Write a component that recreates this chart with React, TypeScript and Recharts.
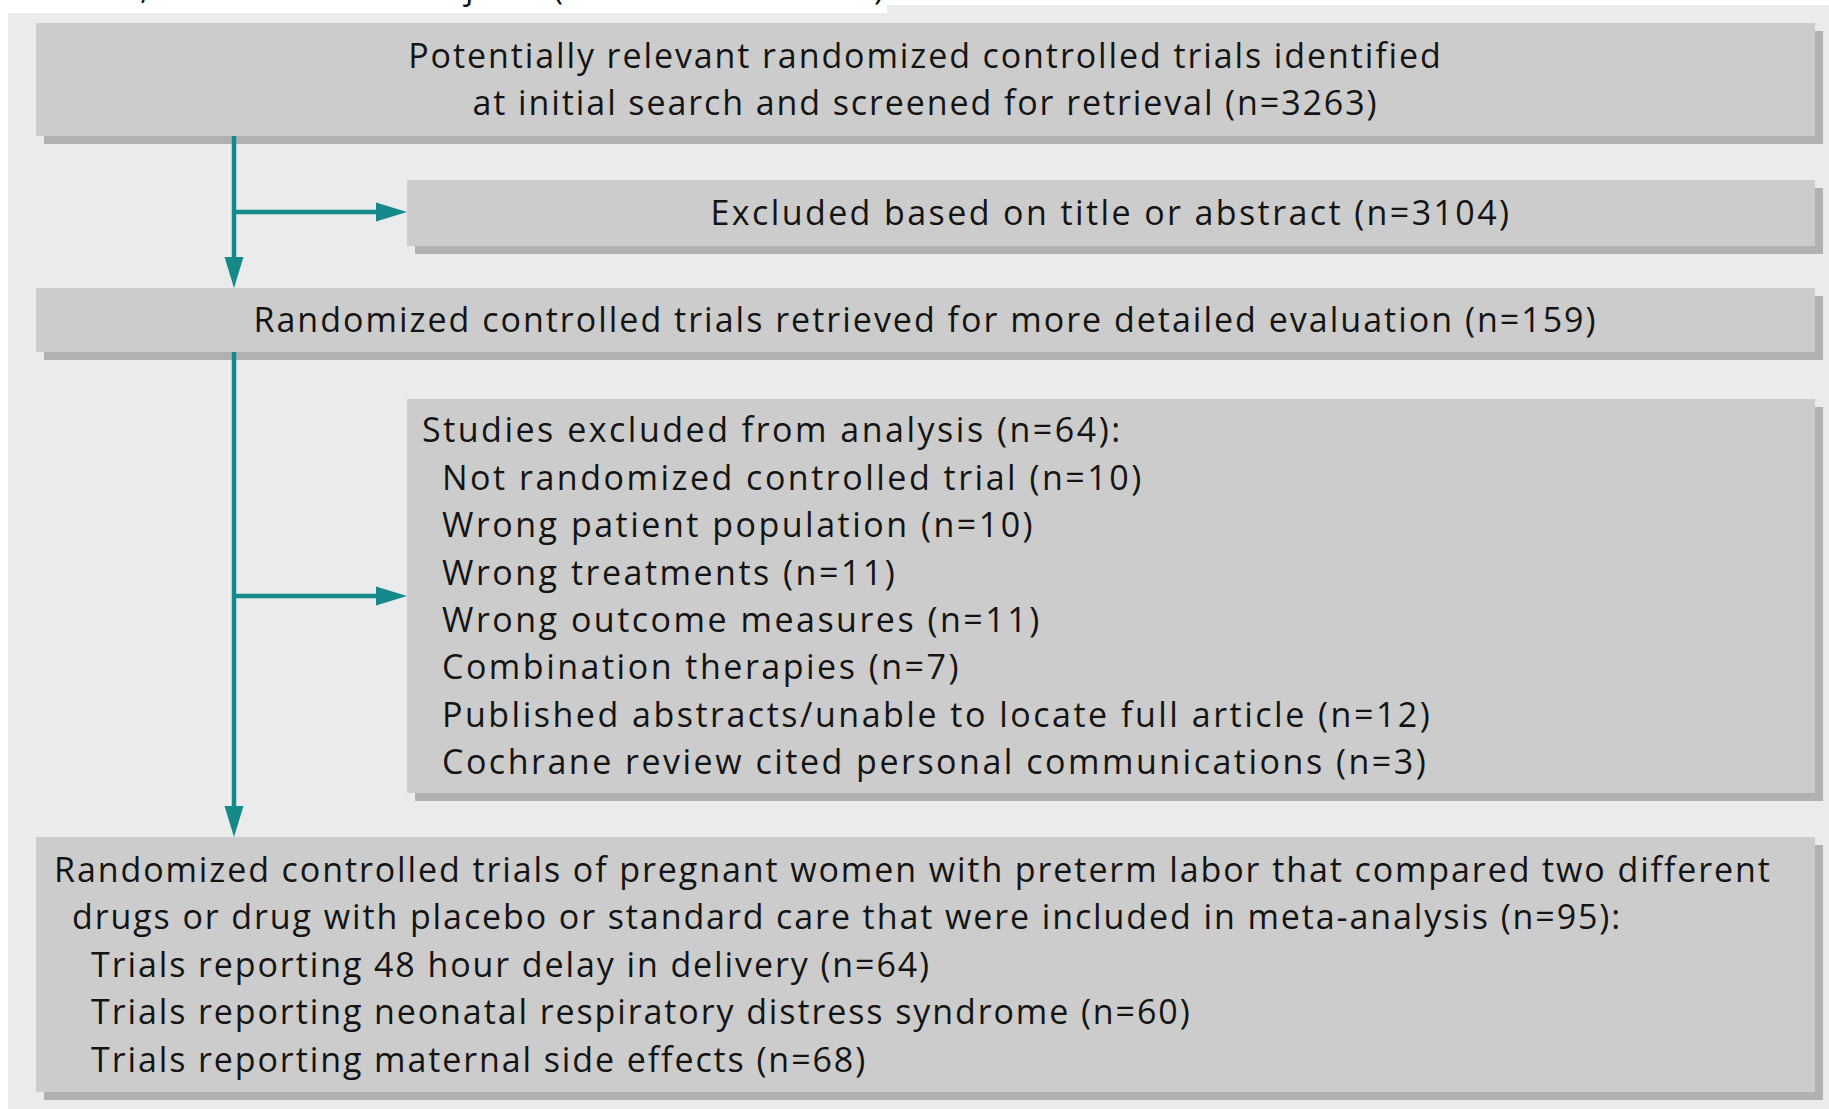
import React from "react";
import { ComposedChart, XAxis, YAxis, ReferenceArea, ReferenceLine } from "recharts";

const W = 1829;
const H = 1109;

// --- flow data ---
const screenedTitle = [
  "Potentially relevant randomized controlled trials identified",
  "at initial search and screened for retrieval",
];
const screenedCount = 3263;

const titleExcludedLabel = "Excluded based on title or abstract";
const titleExcludedCount = 3104;

const retrievedLabel = "Randomized controlled trials retrieved for more detailed evaluation";
const retrievedCount = 159;

const analysisExcludedLabel = "Studies excluded from analysis";
const analysisExcludedCount = 64;
const exclusionReasons = [
  "Not randomized controlled trial",
  "Wrong patient population",
  "Wrong treatments",
  "Wrong outcome measures",
  "Combination therapies",
  "Published abstracts/unable to locate full article",
  "Cochrane review cited personal communications",
];
const exclusionCounts = [10, 10, 11, 11, 7, 12, 3];

const includedTitle = [
  "Randomized controlled trials of pregnant women with preterm labor that compared two different",
  "drugs or drug with placebo or standard care that were included in meta-analysis",
];
const includedCount = 95;
const outcomeLabels = [
  "Trials reporting 48 hour delay in delivery",
  "Trials reporting neonatal respiratory distress syndrome",
  "Trials reporting maternal side effects",
];
const outcomeCounts = [64, 60, 68];

// bits of the caption above the figure that got cut off by the crop
const croppedChars = [",", "j", "(", ")"];

// --- styling / layout ---
const TEAL = "#168a8b";
const BOX_FILL = "#cccccc";
const SHADOW = "#b1b1b1";
const PANEL = "#ebebeb";
const FONT = "'Open Sans', 'Noto Sans', sans-serif";
const FONT_SIZE = 34;
const LINE_H = 47.4;
const SHADOW_OFF = 8;
const TRUNK_X = 234;

type Line = { text: string; indent: number };

const n = (v: number) => `(n=${v})`;

const boxes: {
  id: string; x1: number; x2: number; y1: number; y2: number;
  align: "middle" | "start"; spacing: number; lines: Line[];
}[] = [
  {
    id: "screened", x1: 36, x2: 1815, y1: 23, y2: 136, align: "middle", spacing: 1.9,
    lines: [
      { text: screenedTitle[0], indent: 0 },
      { text: `${screenedTitle[1]} ${n(screenedCount)}`, indent: 0 },
    ],
  },
  {
    id: "titleExcluded", x1: 407, x2: 1815, y1: 180, y2: 246, align: "middle", spacing: 2.4,
    lines: [{ text: `${titleExcludedLabel} ${n(titleExcludedCount)}`, indent: 0 }],
  },
  {
    id: "retrieved", x1: 36, x2: 1815, y1: 288, y2: 352, align: "middle", spacing: 2.0,
    lines: [{ text: `${retrievedLabel} ${n(retrievedCount)}`, indent: 0 }],
  },
  {
    id: "analysisExcluded", x1: 407, x2: 1815, y1: 399, y2: 793, align: "start", spacing: 2.5,
    lines: [
      { text: `${analysisExcludedLabel} ${n(analysisExcludedCount)}:`, indent: 15 },
      ...exclusionReasons.map((r, i) => ({ text: `${r} ${n(exclusionCounts[i])}`, indent: 35 })),
    ],
  },
  {
    id: "included", x1: 36, x2: 1815, y1: 837, y2: 1092, align: "start", spacing: 1.9,
    lines: [
      { text: includedTitle[0], indent: 18 },
      { text: `${includedTitle[1]} ${n(includedCount)}:`, indent: 36 },
      ...outcomeLabels.map((o, i) => ({ text: `${o} ${n(outcomeCounts[i])}`, indent: 55 })),
    ],
  },
];

const arrows = [
  { from: { x: TRUNK_X, y: 136 }, to: { x: TRUNK_X, y: 288 } },
  { from: { x: TRUNK_X, y: 212 }, to: { x: 407, y: 212 } },
  { from: { x: TRUNK_X, y: 352 }, to: { x: TRUNK_X, y: 837 } },
  { from: { x: TRUNK_X, y: 596 }, to: { x: 407, y: 596 } },
];

const boxText = (lines: Line[], align: "middle" | "start", spacing: number) => (props: any) => {
  const { x, y, width, height } = props.viewBox;
  const mid = y + height / 2;
  const count = lines.length;
  return (
    <text fontFamily={FONT} fontSize={FONT_SIZE} fill="#141414" textAnchor={align} letterSpacing={spacing}>
      {lines.map((l, i) => (
        <tspan
          key={i}
          x={align === "middle" ? x + width / 2 : x + l.indent}
          y={mid + (i - (count - 1) / 2) * LINE_H + FONT_SIZE * 0.36}
        >
          {l.text}
        </tspan>
      ))}
    </text>
  );
};

const croppedText = () => {
  const xs = [140, 465, 553, 874];
  return (
    <g>
      {croppedChars.map((c, i) => (
        <text key={i} x={xs[i]} y={-1} fontFamily={FONT} fontSize={FONT_SIZE} fill="#141414">
          {c}
        </text>
      ))}
    </g>
  );
};

const arrowShape = (props: any) => {
  const { x1, y1, x2, y2 } = props;
  const dx = x2 - x1;
  const dy = y2 - y1;
  const len = Math.hypot(dx, dy) || 1;
  const ux = dx / len;
  const uy = dy / len;
  const headL = 31;
  const headW = 9.5;
  const bx = x2 - ux * headL;
  const by = y2 - uy * headL;
  const px = -uy;
  const py = ux;
  return (
    <g>
      <line x1={x1} y1={y1} x2={bx + ux * 2} y2={by + uy * 2} stroke={TEAL} strokeWidth={4.5} />
      <polygon
        points={`${x2},${y2} ${bx + px * headW},${by + py * headW} ${bx - px * headW},${by - py * headW}`}
        fill={TEAL}
      />
    </g>
  );
};

export default function App() {
  return (
    <div style={{ position: "absolute", left: 0, top: 0, background: "#fff" }}>
      <ComposedChart width={W} height={H} margin={{ top: 0, right: 0, bottom: 0, left: 0 }}>
        <XAxis type="number" dataKey="x" domain={[0, W]} hide allowDataOverflow />
        <YAxis type="number" dataKey="y" domain={[0, H]} reversed hide allowDataOverflow />

        {/* page panel */}
        <ReferenceArea x1={0} x2={W} y1={0} y2={14} fill="#ffffff" fillOpacity={1} stroke="none" label={croppedText} />
        <ReferenceArea x1={887} x2={W} y1={5} y2={14} fill={PANEL} fillOpacity={1} stroke="none" />
        <ReferenceArea x1={8} x2={W} y1={13} y2={H} fill={PANEL} fillOpacity={1} stroke="none" />

        {boxes.map((b) => (
          <ReferenceArea
            key={`${b.id}-shadow`}
            x1={b.x1 + SHADOW_OFF}
            x2={b.x2 + SHADOW_OFF}
            y1={b.y1 + SHADOW_OFF}
            y2={b.y2 + SHADOW_OFF}
            fill={SHADOW}
            fillOpacity={1}
            stroke="none"
          />
        ))}
        {boxes.map((b) => (
          <ReferenceArea
            key={b.id}
            x1={b.x1}
            x2={b.x2}
            y1={b.y1}
            y2={b.y2}
            fill={BOX_FILL}
            fillOpacity={1}
            stroke="none"
            label={boxText(b.lines, b.align, b.spacing)}
          />
        ))}

        {arrows.map((a, i) => (
          <ReferenceLine key={i} segment={[a.from, a.to]} shape={arrowShape} />
        ))}
      </ComposedChart>
    </div>
  );
}
